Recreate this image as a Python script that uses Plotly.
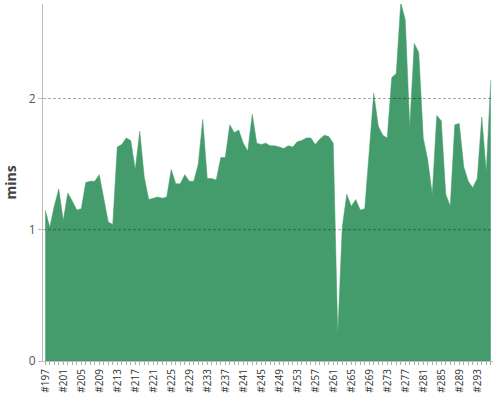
#!/usr/bin/env python3

import plotly.graph_objects as go

# build numbers #197 .. #296
first_build = 197
durations = [
    1.15, 1.02, 1.18, 1.31, 1.07, 1.28, 1.22, 1.15, 1.16, 1.36,
    1.37, 1.37, 1.42, 1.23, 1.06, 1.04, 1.63, 1.65, 1.70, 1.68,
    1.46, 1.75, 1.40, 1.23, 1.24, 1.25, 1.24, 1.25, 1.46, 1.35,
    1.35, 1.42, 1.37, 1.37, 1.50, 1.84, 1.39, 1.39, 1.38, 1.55,
    1.55, 1.80, 1.74, 1.76, 1.66, 1.60, 1.88, 1.66, 1.65, 1.66,
    1.64, 1.64, 1.63, 1.62, 1.64, 1.63, 1.67, 1.68, 1.70, 1.70,
    1.65, 1.69, 1.72, 1.71, 1.66, 0.20, 1.02, 1.27, 1.18, 1.23,
    1.15, 1.16, 1.60, 2.04, 1.79, 1.72, 1.70, 2.16, 2.19, 2.73,
    2.60, 1.78, 2.42, 2.35, 1.70, 1.53, 1.27, 1.87, 1.83, 1.27,
    1.18, 1.80, 1.81, 1.48, 1.37, 1.32, 1.39, 1.86, 1.44, 2.14,
]
builds = ["#%d" % (first_build + i) for i in range(len(durations))]
tick_labels = [b if i % 4 == 0 else "" for i, b in enumerate(builds)]
y_ticks = [0, 1, 2]

fig = go.Figure()
fig.add_trace(go.Scatter(x=builds, y=durations,
                         mode="lines",
                         fill="tozeroy",
                         fillcolor="#449c6c",
                         line=dict(color="#449c6c", width=0.5),
                         hoverinfo="x+y"))

# grid lines drawn over the area (plotly's own grid sits under the traces)
for t in y_ticks[1:]:
    fig.add_hline(y=t, layer="above",
                  line=dict(color="rgba(0,0,0,0.38)", width=0.9, dash="3px,2px"))

fig.update_layout(width=500, height=400,
                  margin=dict(l=43, r=7, t=4, b=39, autoexpand=False),
                  paper_bgcolor="white", plot_bgcolor="white",
                  showlegend=False,
                  font=dict(family="Open Sans", color="#444"))

fig.update_xaxes(type="category",
                 range=[-0.5, len(builds) - 0.5],
                 tickmode="array", tickvals=builds, ticktext=tick_labels,
                 tickangle=-90, tickfont=dict(size=10, color="#333"),
                 ticks="outside", ticklen=3, tickcolor="#aaa",
                 showline=True, linecolor="#bbb", linewidth=1,
                 showgrid=False)

fig.update_yaxes(range=[0, 2.72], tickmode="array", tickvals=y_ticks,
                 title=dict(text="<b>mins</b>", font=dict(size=14, color="#444"),
                            standoff=8),
                 tickfont=dict(size=12, color="#555"),
                 ticks="outside", ticklen=4, tickcolor="#bbb",
                 showline=True, linecolor="#bbb", linewidth=1,
                 showgrid=False, zeroline=False)

# the page body has an 8px default margin; drop it so the chart sits at 0,0
fig.write_html("out.html", config={"displayModeBar": False},
               post_script="document.body.style.margin='0';")
